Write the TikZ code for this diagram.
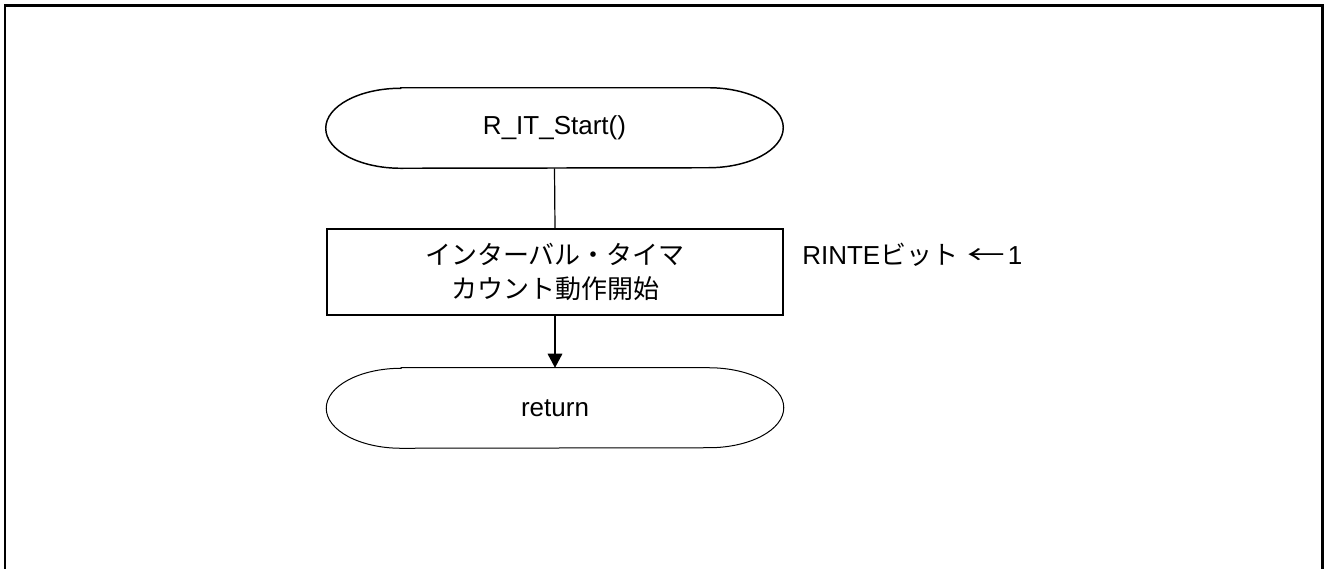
\documentclass[tikz,border=0pt]{standalone}
\usepackage{fontspec}
\setmainfont{Liberation Sans}
\newfontfamily\jp{Noto Sans CJK JP}
\usetikzlibrary{arrows.meta}
\tikzset{
  termnode/.style={minimum width=342.75pt, minimum height=60pt, inner sep=0pt, font=\fontsize{19.5pt}{26pt}\selectfont},
  procbox/.style={draw, line width=1.1pt, minimum width=342pt, minimum height=64.5pt, inner sep=0pt, align=center, font=\fontsize{19.5pt}{26pt}\selectfont\jp},
  notetext/.style={anchor=west, inner sep=0pt, font=\fontsize{19.5pt}{26pt}\selectfont},
  conn/.style={line width=0.9pt},
  frameline/.style={line width=1.8pt}
}
\newcommand\termoutline[2][]{\draw[#1] ([xshift=56.25pt]#2.north west) -- ([xshift=-56.25pt]#2.north east) arc[start angle=90,end angle=-90,x radius=56.25pt,y radius=30pt] -- ([xshift=56.25pt]#2.south west) arc[start angle=270,end angle=90,x radius=56.25pt,y radius=30pt] -- cycle;}
\begin{document}
\begin{tikzpicture}[x=0.75pt,y=0.75pt]
\useasboundingbox (0,0) rectangle (1325,-568);
\draw[frameline] (4.7,-600) -- (4.7,-5.5) -- (1322.3,-5.5) -- (1322.3,-600);
\node[termnode] (start) at (554.5,-128) {R\_IT\_Start()};
\termoutline[line width=1.1pt]{start}
\node[procbox] (proc) at (555,-272) {インターバル・タイマ\\カウント動作開始};
\node[termnode] (ret) at (555,-408) {return};
\termoutline[line width=0.75pt]{ret}
\draw[conn] (start.south) -- (proc.north);
\draw[conn,-{Triangle[width=11pt,length=10.5pt]}] (proc.south) -- (ret.north);
\node[notetext] (note) at (802,-255) {RINTE{\jp ビット}\hspace{7pt}{\jp\scalebox{1.45}[1]{←}}\hspace{2pt}1};
\end{tikzpicture}
\end{document}
